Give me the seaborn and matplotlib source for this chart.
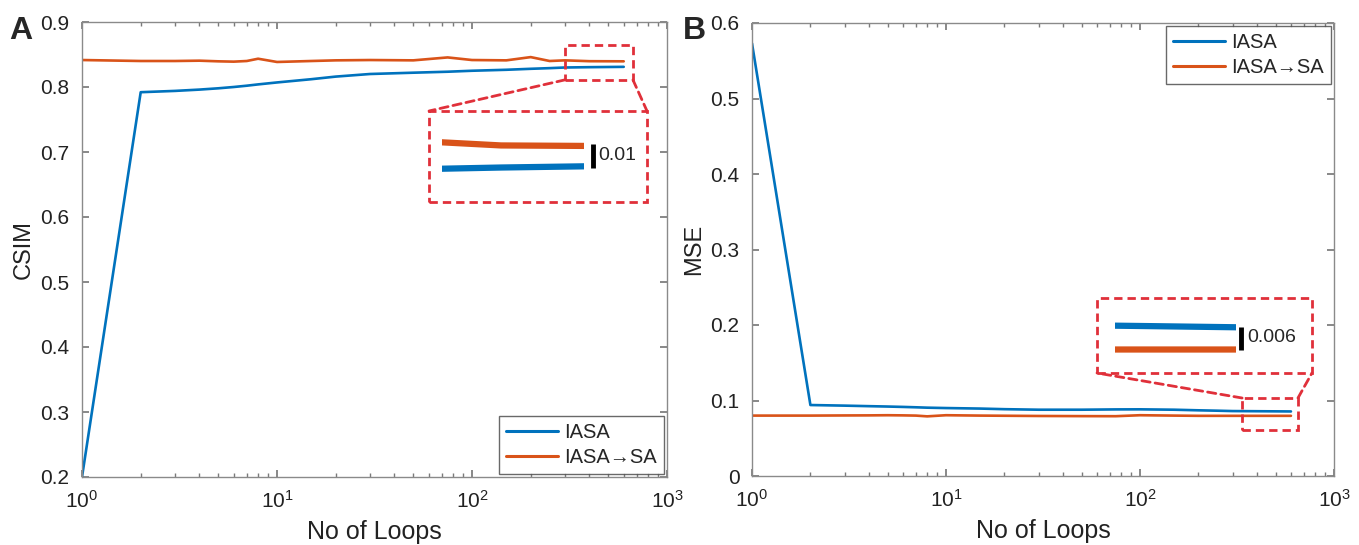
import matplotlib
matplotlib.use("Agg")
import matplotlib.pyplot as plt
import seaborn as sns
import pandas as pd
from matplotlib.patches import Rectangle, ConnectionPatch
from matplotlib.transforms import blended_transform_factory

# données
loops = [1, 2, 3, 4, 5, 6, 7, 8, 10, 15, 20, 30, 50, 75, 100, 150, 200, 250, 300, 400, 600]
csim_iasa = [0.200, 0.792, 0.794, 0.796, 0.798, 0.800, 0.802, 0.804, 0.807, 0.812, 0.816,
             0.820, 0.822, 0.8235, 0.825, 0.8265, 0.828, 0.829, 0.830, 0.8305, 0.831]
csim_iasa_sa = [0.8415, 0.8400, 0.8400, 0.8405, 0.8395, 0.8390, 0.8400, 0.8435, 0.8385, 0.8400, 0.8410,
                0.8415, 0.8410, 0.8455, 0.8415, 0.8410, 0.8460, 0.8400, 0.8410, 0.8397, 0.8395]
mse_iasa = [0.573, 0.094, 0.0932, 0.0925, 0.092, 0.0915, 0.091, 0.0905, 0.090, 0.0893, 0.0885,
            0.0878, 0.0878, 0.0882, 0.0883, 0.0878, 0.0870, 0.0865, 0.0860, 0.0858, 0.0855]
mse_iasa_sa = [0.0800, 0.0800, 0.0802, 0.0803, 0.0805, 0.0803, 0.0800, 0.0790, 0.0805, 0.0800, 0.0798,
               0.0795, 0.0793, 0.0792, 0.0805, 0.0800, 0.0797, 0.0797, 0.0797, 0.0797, 0.0797]
methods = ["IASA", "IASA→SA"]

BLUE = "#0072BD"
ORANGE = "#D95319"
RED = "#E0303A"
W, H = 1359, 545


def px_box(x0, y0, x1, y1):
    return [x0 / W, 1 - y1 / H, (x1 - x0) / W, (y1 - y0) / H]


def fig_pt(x, y):
    return (x / W, 1 - y / H)


def make_df(a, b):
    n = len(loops)
    return pd.DataFrame({"loops": loops * 2, "value": a + b,
                         "method": [methods[0]] * n + [methods[1]] * n})


sns.set_theme(style="white")
plt.rcParams["font.family"] = ["Liberation Sans", "DejaVu Sans"]

fig = plt.figure(figsize=(13.59, 5.45), dpi=100)
ax_a = fig.add_axes(px_box(82, 22, 667, 477))
ax_b = fig.add_axes(px_box(752, 23, 1334, 476))

df_a = make_df(csim_iasa, csim_iasa_sa)
df_b = make_df(mse_iasa, mse_iasa_sa)

for ax, df, ylim, yticks, ylab, leg_loc in [
    (ax_a, df_a, (0.2, 0.9), [0.2, 0.3, 0.4, 0.5, 0.6, 0.7, 0.8, 0.9], "CSIM", "lower right"),
    (ax_b, df_b, (0, 0.6), [0, 0.1, 0.2, 0.3, 0.4, 0.5, 0.6], "MSE", "upper right"),
]:
    sns.lineplot(data=df, x="loops", y="value", hue="method", palette=[BLUE, ORANGE],
                 lw=1.9, ax=ax)
    ax.set_xscale("log")
    ax.set_xlim(1, 1000)
    ax.set_ylim(*ylim)
    ax.set_yticks(yticks)
    ax.set_yticklabels([f"{t:g}" for t in yticks])
    ax.set_xlabel("No of Loops", fontsize=18, color="#222222", labelpad=6)
    ax.set_ylabel(ylab, fontsize=17, color="#222222", labelpad=4)
    ax.tick_params(which="both", direction="in", top=True, right=True, bottom=True, left=True,
                   colors="#7a7a7a", labelcolor="#222222", labelsize=15)
    ax.tick_params(which="major", length=5, pad=9)
    ax.tick_params(which="minor", length=3)
    for sp in ax.spines.values():
        sp.set_color("#8a8a8a")
        sp.set_linewidth(1.0)
    handles, labels = ax.get_legend_handles_labels()
    leg = ax.legend(handles, labels, loc=leg_loc, frameon=True, fancybox=False,
                    edgecolor="#444444", fontsize=14.5, handlelength=2.6,
                    borderaxespad=0.15, handletextpad=0.3, borderpad=0.35, labelspacing=0.3)
    leg.get_frame().set_linewidth(1.0)
    for line in leg.get_lines():
        line.set_linewidth(2.2)

fig.text(21 / W, 1 - 31 / H, "A", fontsize=23, fontweight="bold", ha="center", va="center")
fig.text(694 / W, 1 - 31 / H, "B", fontsize=23, fontweight="bold", ha="center", va="center")

dash = (0, (3, 1.8))

# encart A
ax_ai = fig.add_axes(px_box(442, 132, 584, 180))
sns.lineplot(data=df_a, x="loops", y="value", hue="method", palette=[BLUE, ORANGE],
             lw=4.5, ax=ax_ai, legend=False)
ax_ai.set_xscale("log")
ax_ai.set_xlim(300, 600)
ax_ai.set_ylim(0.8253, 0.8453)
ax_ai.axis("off")
tr = blended_transform_factory(ax_ai.transAxes, ax_ai.transData)
ax_ai.plot([1.063, 1.063], [0.8303, 0.8403], color="black", lw=3.5, transform=tr,
           clip_on=False, solid_capstyle="butt")
ax_ai.text(1.10, 0.8353, "0.01", transform=tr, fontsize=14, va="center", ha="left")

ax_a.add_patch(Rectangle((300, 0.811), 669 - 300, 0.8646 - 0.811, fill=False, ec=RED,
                         lw=2, ls=dash, clip_on=False, zorder=5))
x0, y0 = fig_pt(429, 202)
x1, y1 = fig_pt(647, 111)
fig.add_artist(Rectangle((x0, y0), x1 - x0, y1 - y0, transform=fig.transFigure,
                         fill=False, ec=RED, lw=2, ls=dash))
for xa, xb in [(300, 429), (669, 647)]:
    fig.add_artist(ConnectionPatch(xyA=(xa, 0.811), coordsA=ax_a.transData,
                                   xyB=fig_pt(xb, 111), coordsB=fig.transFigure,
                                   color=RED, lw=2, ls=dash))

# encart B
ax_bi = fig.add_axes(px_box(1115, 315, 1236, 361))
sns.lineplot(data=df_b, x="loops", y="value", hue="method", palette=[BLUE, ORANGE],
             lw=4.5, ax=ax_bi, legend=False)
ax_bi.set_xscale("log")
ax_bi.set_xlim(340, 600)
ax_bi.set_ylim(0.0767, 0.0887)
ax_bi.axis("off")
tr = blended_transform_factory(ax_bi.transAxes, ax_bi.transData)
ax_bi.plot([1.041, 1.041], [0.0797, 0.0857], color="black", lw=3.5, transform=tr,
           clip_on=False, solid_capstyle="butt")
ax_bi.text(1.09, 0.0827, "0.006", transform=tr, fontsize=14, va="center", ha="left")

ax_b.add_patch(Rectangle((336, 0.0609), 652 - 336, 0.1033 - 0.0609, fill=False, ec=RED,
                         lw=2, ls=dash, clip_on=False, zorder=5))
x0, y0 = fig_pt(1097, 373)
x1, y1 = fig_pt(1312, 298)
fig.add_artist(Rectangle((x0, y0), x1 - x0, y1 - y0, transform=fig.transFigure,
                         fill=False, ec=RED, lw=2, ls=dash))
for xa, xb in [(336, 1097), (652, 1312)]:
    fig.add_artist(ConnectionPatch(xyA=(xa, 0.1033), coordsA=ax_b.transData,
                                   xyB=fig_pt(xb, 373), coordsB=fig.transFigure,
                                   color=RED, lw=2, ls=dash))

fig.savefig("out.png", dpi=100)
